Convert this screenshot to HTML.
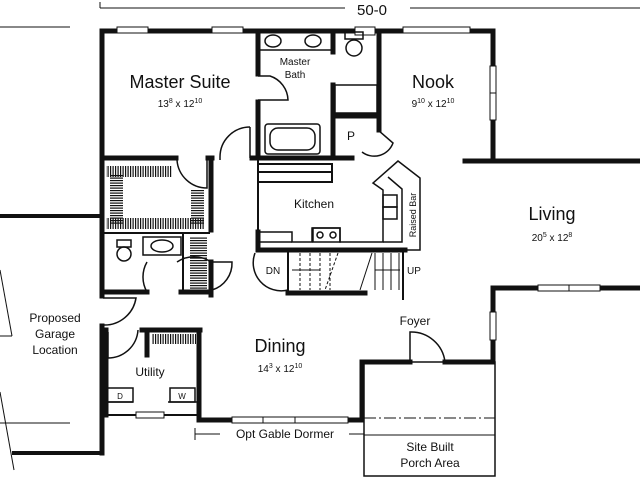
<!DOCTYPE html>
<html><head><meta charset="utf-8"><style>
html,body{margin:0;padding:0;background:#fff;width:640px;height:480px;overflow:hidden}
svg{display:block}
text{font-family:"Liberation Sans",sans-serif;fill:#111}
</style></head><body>
<svg width="640" height="480" viewBox="0 0 640 480" xmlns="http://www.w3.org/2000/svg">
<defs>
<pattern id="hatchV" width="2.5" height="10" patternUnits="userSpaceOnUse"><rect x="0" y="0" width="1.2" height="10" fill="#111"/></pattern>
<pattern id="hatchH" width="10" height="2.5" patternUnits="userSpaceOnUse"><rect x="0" y="0" width="10" height="1.2" fill="#111"/></pattern>
</defs>
<g stroke="#111" fill="none">
<!-- dimension line -->
<line x1="100" y1="8" x2="345" y2="8" stroke-width="1"/>
<line x1="410" y1="8" x2="640" y2="8" stroke-width="1"/>
<line x1="100" y1="2" x2="100" y2="8" stroke-width="1"/>
<!-- garage lines -->
<line x1="0" y1="27" x2="70" y2="27" stroke-width="1"/>
<line x1="0" y1="216" x2="100" y2="216" stroke-width="4"/>
<line x1="0" y1="270" x2="12" y2="336" stroke-width="1"/>
<line x1="0" y1="336" x2="12" y2="336" stroke-width="1"/>
<line x1="0" y1="392" x2="14" y2="470" stroke-width="1"/>
<line x1="0" y1="423" x2="70" y2="423" stroke-width="1"/>
<line x1="12" y1="453" x2="103" y2="453" stroke-width="4"/>

<!-- thick walls -->
<g stroke-width="5" stroke-linecap="square">
<polyline points="102,31 493,31 493,161 640,161"/>
<line x1="465" y1="161" x2="493" y2="161"/>
<line x1="102" y1="31" x2="102" y2="296"/>
<line x1="102" y1="326" x2="102" y2="453"/>
<line x1="106" y1="330" x2="106" y2="415"/>
<line x1="258" y1="31" x2="258" y2="74"/>
<line x1="258" y1="102" x2="258" y2="158"/>
<line x1="103" y1="158" x2="176" y2="158"/>
<line x1="208" y1="158" x2="212" y2="158"/>
<line x1="211" y1="158" x2="211" y2="230"/>
<line x1="211" y1="262" x2="211" y2="295"/>
<line x1="252" y1="158" x2="352" y2="158"/>
<line x1="379" y1="31" x2="379" y2="130"/>
<line x1="333" y1="31" x2="333" y2="52"/>
<line x1="333" y1="85" x2="333" y2="158"/>
<line x1="333" y1="116" x2="379" y2="116"/>
<line x1="103" y1="292" x2="147" y2="292"/>
<line x1="181" y1="292" x2="211" y2="292"/>
<line x1="258" y1="232" x2="258" y2="250"/>
<line x1="258" y1="250" x2="405" y2="250"/>
<line x1="288" y1="293" x2="365" y2="293"/>
<line x1="142" y1="330" x2="200" y2="330"/>
<line x1="147" y1="330" x2="147" y2="355"/>
<line x1="199" y1="330" x2="199" y2="420"/>
<line x1="199" y1="420" x2="232" y2="420"/>
<line x1="348" y1="420" x2="362" y2="420"/>
<polyline points="362,420 362,362 410,362"/>
<polyline points="445,362 493,362 493,288 540,288"/>
<line x1="600" y1="288" x2="640" y2="288"/>
</g>
<!-- thin walls -->
<g stroke-width="2">
<line x1="106" y1="415" x2="198" y2="415"/>
<line x1="103" y1="233" x2="210" y2="233"/>
<line x1="183" y1="233" x2="183" y2="292"/>
<line x1="258" y1="158" x2="258" y2="175"/>
<line x1="258" y1="180" x2="258" y2="250"/>
<rect x="258" y="164" width="74" height="18"/>
<line x1="258" y1="172" x2="332" y2="172"/>
<line x1="403" y1="250" x2="403" y2="300"/>
<line x1="288" y1="250" x2="288" y2="293"/>
<!-- porch -->
<rect x="364" y="362" width="131" height="114" stroke-width="1.5"/>
<line x1="364" y1="418" x2="495" y2="418" stroke-width="1" stroke-dasharray="12,3,2,3"/>
<line x1="364" y1="435" x2="495" y2="435" stroke-width="1"/>
</g>
<!-- windows -->
<g stroke-width="1" fill="#fff">
<rect x="117" y="27" width="31" height="6"/><rect x="212" y="27" width="31" height="6"/>
<rect x="403" y="27" width="67" height="6"/>
<rect x="490" y="66" width="6" height="54"/><line x1="490" y1="93" x2="496" y2="93"/>
<rect x="538" y="285" width="62" height="6"/><line x1="569" y1="285" x2="569" y2="291"/>
<rect x="490" y="312" width="6" height="28"/>
<rect x="232" y="417" width="116" height="6"/><line x1="263" y1="417" x2="263" y2="423"/><line x1="295" y1="417" x2="295" y2="423"/>
<rect x="136" y="412" width="28" height="6"/>
<rect x="355" y="27" width="20" height="8"/>
</g>
<!-- doors -->
<g stroke-width="1.5">
<path d="M258,76 L270,76 A26,26 0 0 1 288,100 L258,100"/>
<path d="M250,127 A30,30 0 0 0 220,157 L220,160"/>
<line x1="250" y1="127" x2="250" y2="158"/>
<path d="M177,160 A30,30 0 0 0 207,188 L207,160"/>
<path d="M177,262 A30,30 0 0 1 211,262"/>
<path d="M212,262 L232,262 A28,28 0 0 1 212,290"/>
<path d="M147,262 A30,30 0 0 0 147,292"/>
<path d="M103,298 L136,298 A32,32 0 0 1 103,325"/>
<path d="M108,332 L108,358 A30,30 0 0 0 138,330"/>
<path d="M255,253 A28,28 0 0 0 288,290"/>
<path d="M410,362 L410,332 A34,34 0 0 1 445,362"/>
<path d="M378,130 L393,143 A20,20 0 0 1 362,152"/>
</g>
<!-- stairs -->
<g stroke-width="1">
<line x1="300" y1="253" x2="300" y2="290" stroke-dasharray="3,2"/>
<line x1="310" y1="253" x2="310" y2="290" stroke-dasharray="3,2"/>
<line x1="320" y1="253" x2="320" y2="290" stroke-dasharray="3,2"/>
<line x1="330" y1="253" x2="330" y2="290" stroke-dasharray="3,2"/>
<line x1="338" y1="253" x2="325" y2="290" stroke-dasharray="3,2"/>
<line x1="372" y1="253" x2="360" y2="290"/>
<line x1="375" y1="253" x2="375" y2="290"/><line x1="383" y1="253" x2="383" y2="290"/><line x1="391" y1="253" x2="391" y2="290"/><line x1="399" y1="253" x2="399" y2="290"/>
<line x1="292" y1="270" x2="320" y2="270"/><line x1="375" y1="270" x2="400" y2="270"/>
</g>
<!-- kitchen counter, raised bar -->
<g stroke-width="1.5">
<polyline points="258,232 292,232 292,242 312,242 312,228 340,228 340,242 383,242 383,190 373,183 398,161 420,178 420,250 405,250"/>
<line x1="258" y1="242" x2="292" y2="242"/>
<polyline points="383,242 402,242 402,189 388,177"/>
<rect x="313" y="228" width="27" height="14"/>
<circle cx="320" cy="235" r="3"/><circle cx="333" cy="235" r="3"/>
<rect x="383" y="195" width="14" height="12"/><rect x="383" y="207" width="14" height="12"/>
</g>
<!-- bath fixtures -->
<g stroke-width="1.5">
<ellipse cx="273" cy="41" rx="8" ry="6"/><ellipse cx="313" cy="41" rx="8" ry="6"/>
<line x1="260" y1="50" x2="333" y2="50"/>
<rect x="265" y="124" width="55" height="30" rx="3"/>
<rect x="270" y="128" width="45" height="22" rx="8"/>
<rect x="345" y="32" width="18" height="7"/><circle cx="354" cy="48" r="8"/>
<rect x="335" y="85" width="42" height="28"/>
<rect x="117" y="240" width="14" height="7"/><circle cx="124" cy="254" r="7"/>
<rect x="143" y="237" width="38" height="18"/><ellipse cx="162" cy="246" rx="11" ry="6"/>
<rect x="107" y="388" width="26" height="14"/><line x1="106" y1="402" x2="133" y2="402"/>
<rect x="170" y="388" width="25" height="14"/><line x1="168" y1="402" x2="198" y2="402"/>
</g>
<!-- closet hatching -->
<g stroke="none">
<rect x="106" y="166" width="66" height="11" fill="url(#hatchV)"/>
<rect x="110" y="175" width="13" height="50" fill="url(#hatchH)"/>
<rect x="106" y="218" width="98" height="11" fill="url(#hatchV)"/>
<rect x="191" y="190" width="13" height="35" fill="url(#hatchH)"/>
<rect x="190" y="237" width="17" height="52" fill="url(#hatchH)"/>
<rect x="152" y="334" width="44" height="10" fill="url(#hatchV)"/>
</g>
<line x1="195" y1="428" x2="195" y2="440" stroke-width="1"/>
<line x1="195" y1="434" x2="220" y2="434" stroke-width="1"/>
<line x1="349" y1="434" x2="364" y2="434" stroke-width="1"/>
</g>
<text x="372" y="15" font-size="15" text-anchor="middle">50-0</text>
<text x="180" y="88" font-size="18" text-anchor="middle">Master Suite</text>
<text x="180" y="107" font-size="10" text-anchor="middle">13<tspan font-size="7" dy="-4">8</tspan><tspan dy="4"> x 12</tspan><tspan font-size="7" dy="-4">10</tspan></text>
<text x="295" y="65" font-size="10" text-anchor="middle">Master</text>
<text x="295" y="78" font-size="10" text-anchor="middle">Bath</text>
<text x="433" y="88" font-size="18" text-anchor="middle">Nook</text>
<text x="433" y="107" font-size="10" text-anchor="middle">9<tspan font-size="7" dy="-4">10</tspan><tspan dy="4"> x 12</tspan><tspan font-size="7" dy="-4">10</tspan></text>
<text x="351" y="140" font-size="12" text-anchor="middle">P</text>
<text x="314" y="208" font-size="12" text-anchor="middle">Kitchen</text>
<text x="0" y="0" font-size="9" text-anchor="middle" transform="translate(416,215) rotate(-90)">Raised Bar</text>
<text x="552" y="220" font-size="18" text-anchor="middle">Living</text>
<text x="552" y="241" font-size="10" text-anchor="middle">20<tspan font-size="7" dy="-4">5</tspan><tspan dy="4"> x 12</tspan><tspan font-size="7" dy="-4">8</tspan></text>
<text x="273" y="274" font-size="10" text-anchor="middle">DN</text>
<text x="414" y="274" font-size="10" text-anchor="middle">UP</text>
<text x="55" y="322" font-size="12" text-anchor="middle">Proposed</text>
<text x="55" y="338" font-size="12" text-anchor="middle">Garage</text>
<text x="55" y="354" font-size="12" text-anchor="middle">Location</text>
<text x="415" y="325" font-size="12" text-anchor="middle">Foyer</text>
<text x="280" y="352" font-size="18" text-anchor="middle">Dining</text>
<text x="280" y="372" font-size="10" text-anchor="middle">14<tspan font-size="7" dy="-4">3</tspan><tspan dy="4"> x 12</tspan><tspan font-size="7" dy="-4">10</tspan></text>
<text x="150" y="376" font-size="12" text-anchor="middle">Utility</text>
<text x="120" y="399" font-size="8" text-anchor="middle">D</text>
<text x="182" y="399" font-size="8" text-anchor="middle">W</text>
<text x="285" y="438" font-size="12" text-anchor="middle">Opt Gable Dormer</text>
<text x="430" y="451" font-size="12" text-anchor="middle">Site Built</text>
<text x="430" y="467" font-size="12" text-anchor="middle">Porch Area</text>
</svg>
</body></html>
